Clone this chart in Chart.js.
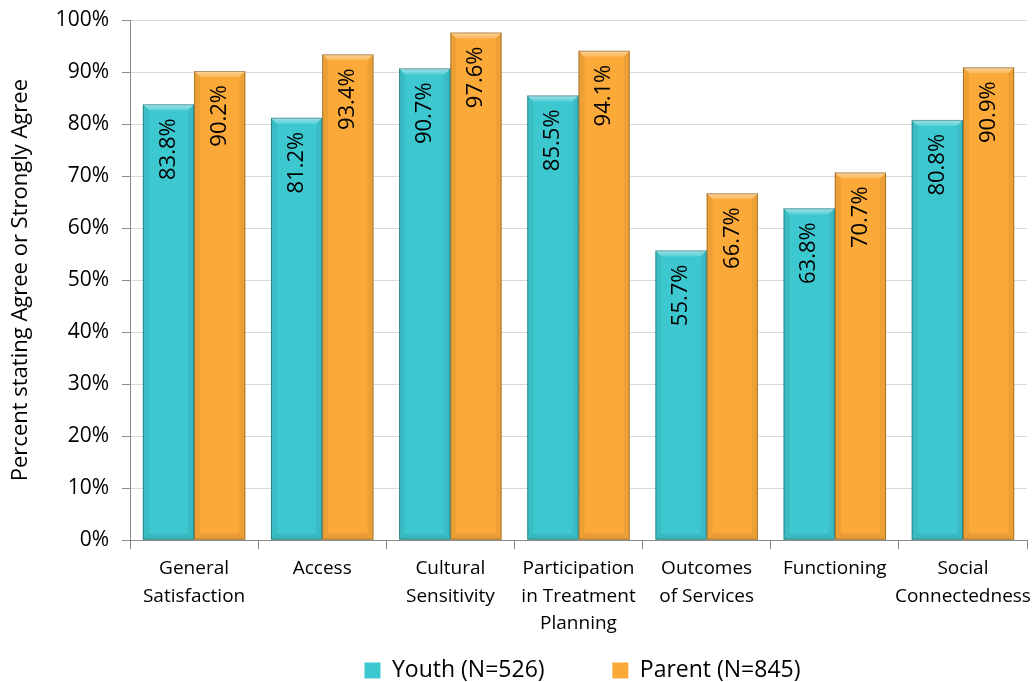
<!DOCTYPE html>
<html>
<head>
<meta charset="utf-8">
<script src="https://cdn.jsdelivr.net/npm/chart.js@4"></script>
<style>
  html, body { margin: 0; padding: 0; background: #fff; }
  #wrap { width: 1033px; height: 682px; }
</style>
</head>
<body>
<div id="wrap"><canvas id="myChart" width="1033" height="682"></canvas></div>
<script>
// categorias del eje x (varias lineas)
const categorias = [
  ["General", "Satisfaction"],
  ["Access"],
  ["Cultural", "Sensitivity"],
  ["Participation", "in Treatment", "Planning"],
  ["Outcomes", "of Services"],
  ["Functioning"],
  ["Social", "Connectedness"]
];
const youth = [83.8, 81.2, 90.7, 85.5, 55.7, 63.8, 80.8];
const parent = [90.2, 93.4, 97.6, 94.1, 66.7, 70.7, 90.9];
const nombresSeries = ["Youth (N=526)", "Parent (N=845)"];
const tituloY = "Percent stating Agree or Strongly Agree";

const colorYouth = "#3dc8d0";
const colorParent = "#fbaa3a";
const fuente = "'Open Sans', 'DejaVu Sans', sans-serif";

// efecto bisel sobre cada barra + etiqueta rotada
const biselPlugin = {
  id: "bisel",
  afterLayout(chart) {
    // mover la leyenda para centrarla bajo el area del grafico
    const lg = chart.legend;
    lg.left = chart.chartArea.left + 8;
    lg.top += 10;
    lg.bottom += 10;
  },
  afterDatasetsDraw(chart) {
    const ctx = chart.ctx;
    chart.data.datasets.forEach((ds, i) => {
      const meta = chart.getDatasetMeta(i);
      meta.data.forEach((bar, j) => {
        const l = bar.x - bar.width / 2, r = bar.x + bar.width / 2;
        const t = bar.y, b = bar.base;
        const s = 6;
        ctx.save();
        // arriba claro
        const g = ctx.createLinearGradient(0, t, 0, t + s);
        g.addColorStop(0, "rgba(255,255,255,0.5)");
        g.addColorStop(1, "rgba(255,255,255,0.15)");
        ctx.fillStyle = g;
        ctx.beginPath();
        ctx.moveTo(l, t); ctx.lineTo(r, t); ctx.lineTo(r - s, t + s); ctx.lineTo(l + s, t + s); ctx.closePath();
        ctx.fill();
        // lados
        ctx.fillStyle = "rgba(0,0,0,0.06)";
        ctx.beginPath();
        ctx.moveTo(l, t); ctx.lineTo(l + s, t + s); ctx.lineTo(l + s, b - s); ctx.lineTo(l, b); ctx.closePath();
        ctx.fill();
        ctx.beginPath();
        ctx.moveTo(r, t); ctx.lineTo(r - s, t + s); ctx.lineTo(r - s, b - s); ctx.lineTo(r, b); ctx.closePath();
        ctx.fill();
        // abajo
        ctx.fillStyle = "rgba(0,0,0,0.08)";
        ctx.beginPath();
        ctx.moveTo(l, b); ctx.lineTo(l + s, b - s); ctx.lineTo(r - s, b - s); ctx.lineTo(r, b); ctx.closePath();
        ctx.fill();
        // borde
        ctx.strokeStyle = "rgba(0,0,0,0.3)";
        ctx.lineWidth = 1;
        ctx.strokeRect(l + 0.5, t + 0.5, r - l - 1, b - t - 1);
        // etiqueta
        ctx.translate(bar.x, t + 14);
        ctx.rotate(-Math.PI / 2);
        ctx.fillStyle = "#000";
        ctx.font = "22px " + fuente;
        ctx.textAlign = "right";
        ctx.textBaseline = "middle";
        ctx.fillText(ds.data[j].toFixed(1) + "%", 0, 0);
        ctx.restore();
      });
    });
  }
};

const config = {
  type: "bar",
  data: {
    labels: categorias,
    datasets: [
      { label: nombresSeries[0], data: youth, backgroundColor: colorYouth, borderWidth: 0 },
      { label: nombresSeries[1], data: parent, backgroundColor: colorParent, borderWidth: 0 }
    ]
  },
  options: {
    responsive: false,
    animation: false,
    layout: { padding: { top: 20, right: 6, left: 0, bottom: 0 } },
    datasets: { bar: { categoryPercentage: 0.8, barPercentage: 1.0 } },
    scales: {
      x: {
        grid: { offset: true, drawOnChartArea: false, tickLength: 9, color: "#898989" },
        border: { color: "#898989" },
        ticks: { color: "#000", font: { family: fuente, size: 19, lineHeight: 1.47 }, maxRotation: 0, autoSkip: false, padding: 5 },
        afterFit: (s) => { s.height -= 2; s.paddingRight = 0; s.paddingLeft = 0; }
      },
      y: {
        min: 0, max: 100,
        ticks: { stepSize: 10, color: "#000", font: { family: fuente, size: 21 }, callback: (v) => v + "%", padding: 13 },
        grid: { color: "#d9d9d9", tickLength: 8, tickColor: "#898989" },
        border: { color: "#898989" },
        title: { display: true, text: tituloY, color: "#000", font: { family: fuente, size: 22 }, padding: 8 },
        afterFit: (s) => { s.width = 130; s.paddingTop = 0; s.paddingBottom = 0; }
      }
    },
    plugins: {
      legend: {
        position: "bottom",
        labels: {
          color: "#000", font: { family: fuente, size: 23 }, boxWidth: 16, boxHeight: 16, padding: 8,
          generateLabels: (chart) => {
            const items = Chart.defaults.plugins.legend.labels.generateLabels(chart);
            items[0].text = items[0].text + "          ";
            return items;
          }
        }
      },
      tooltip: { enabled: false }
    }
  },
  plugins: [biselPlugin]
};

new Chart(document.getElementById("myChart").getContext("2d"), config);
</script>
</body>
</html>
